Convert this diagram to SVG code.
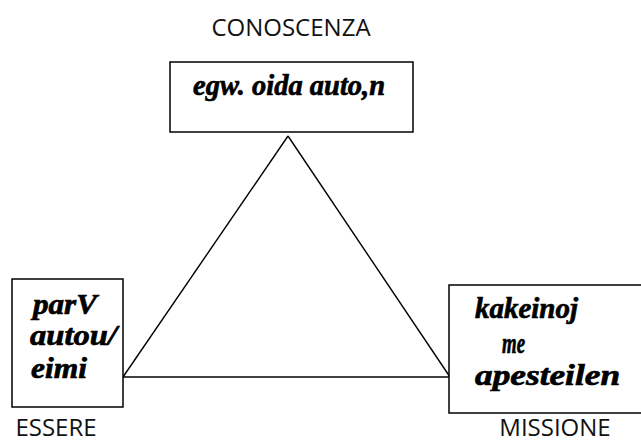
<svg xmlns="http://www.w3.org/2000/svg" width="641" height="443" viewBox="0 0 641 443">
<style>
.box{fill:#fff;stroke:#000;stroke-width:1.5}
.edge{stroke:#000;stroke-width:1.4;fill:none}
.lbl{font-family:"Open Sans","Liberation Sans",sans-serif;font-size:24px;fill:#111}
.gk{font-family:"Liberation Serif","DejaVu Serif",serif;font-weight:bold;font-style:italic;font-size:30px;fill:#000;stroke:#000;stroke-width:0.7}
</style>
<rect width="641" height="443" fill="#fff"/>
<g id="connectors">
<line class="edge" x1="288" y1="136" x2="123" y2="377"/>
<line class="edge" x1="288" y1="136" x2="450" y2="377"/>
<line class="edge" x1="123" y1="377" x2="450" y2="377"/>
</g>
<g id="conoscenza">
<text class="lbl" x="291" y="36" text-anchor="middle">CONOSCENZA</text>
<rect class="box" x="170" y="62" width="243" height="70"/>
<text class="gk" x="193" y="95" textLength="192" lengthAdjust="spacingAndGlyphs">egw. oida auto,n</text>
</g>
<g id="essere">
<rect class="box" x="12" y="279" width="111" height="128"/>
<text class="gk" x="33" y="314" textLength="64" lengthAdjust="spacingAndGlyphs">parV</text>
<text class="gk" x="30" y="345" textLength="87" lengthAdjust="spacingAndGlyphs">autou/</text>
<text class="gk" x="31" y="378" textLength="56" lengthAdjust="spacingAndGlyphs">eimi</text>
<text class="lbl" x="56" y="436" text-anchor="middle">ESSERE</text>
</g>
<g id="missione">
<rect class="box" x="449" y="285" width="200" height="128"/>
<text class="gk" x="475" y="318" textLength="103" lengthAdjust="spacingAndGlyphs">kakeinoj</text>
<text class="gk" x="502" y="353" textLength="23" lengthAdjust="spacingAndGlyphs">me</text>
<text class="gk" x="475" y="385" textLength="145" lengthAdjust="spacingAndGlyphs">apesteilen</text>
<text class="lbl" x="555" y="436" text-anchor="middle">MISSIONE</text>
</g>
</svg>
